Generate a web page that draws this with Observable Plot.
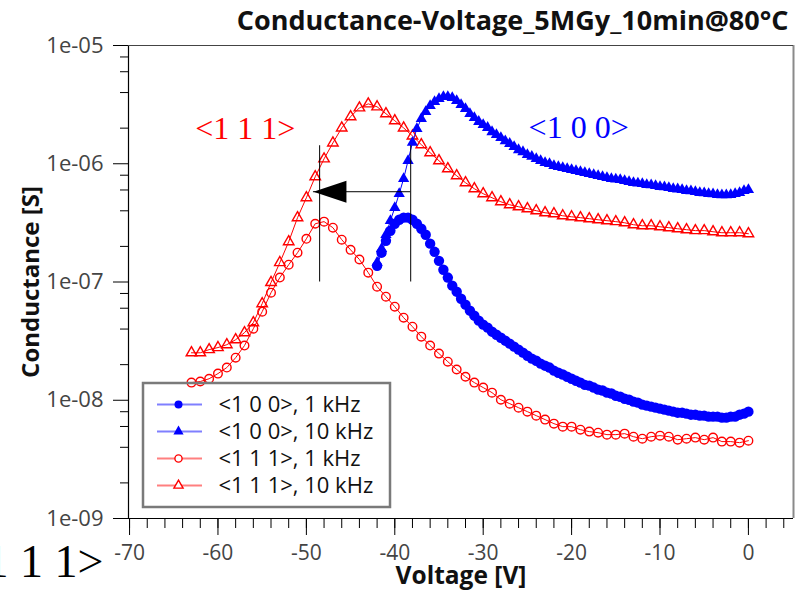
<!DOCTYPE html>
<html><head><meta charset="utf-8">
<script src="https://cdn.jsdelivr.net/npm/d3@7"></script>
<script src="https://cdn.jsdelivr.net/npm/@observablehq/plot@0.6"></script>
<style>
body{margin:0;background:#fff}
#wrap{position:relative;width:800px;height:590px}
#legend{position:absolute;left:141px;top:381px}
#chart g[aria-label$="tick label"]{fill:#444}
</style>
</head><body><div id="wrap"><div id="chart"></div><div id="legend"></div></div>
<script>
// ---------- data ----------
const seriesNames = ["<1 0 0>, 1 kHz", "<1 0 0>, 10 kHz", "<1 1 1>, 1 kHz", "<1 1 1>, 10 kHz"];
const titleText = "Conductance-Voltage_5MGy_10min@80°C";
const xLabel = "Voltage [V]";
const yLabel = "Conductance [S]";

const volt100 = [-42,-41.5,-41,-40.5,-40,-39.5,-39,-38.5,-38,-37.5,
  -37,-36.5,-36,-35.5,-35,-34.5,-34,-33.5,-33,-32.5,
  -32,-31.5,-31,-30.5,-30,-29.5,-29,-28.5,-28,-27.5,
  -27,-26.5,-26,-25.5,-25,-24.5,-24,-23.5,-23,-22.5,
  -22,-21.5,-21,-20.5,-20,-19.5,-19,-18.5,-18,-17.5,
  -17,-16.5,-16,-15.5,-15,-14.5,-14,-13.5,-13,-12.5,
  -12,-11.5,-11,-10.5,-10,-9.5,-9,-8.5,-8,-7.5,
  -7,-6.5,-6,-5.5,-5,-4.5,-4,-3.5,-3,-2.5,
  -2,-1.5,-1,-0.5,0];
const g100_1k = [1.37e-7,1.77e-7,2.23e-7,2.71e-7,3.11e-7,3.36e-7,3.50e-7,3.50e-7,3.36e-7,3.11e-7,
  2.82e-7,2.51e-7,2.11e-7,1.80e-7,1.51e-7,1.27e-7,1.09e-7,9.31e-8,8.28e-8,7.22e-8,
  6.43e-8,5.72e-8,5.19e-8,4.71e-8,4.36e-8,4.11e-8,3.80e-8,3.58e-8,3.38e-8,3.19e-8,
  3.01e-8,2.84e-8,2.68e-8,2.53e-8,2.38e-8,2.25e-8,2.16e-8,2.04e-8,1.96e-8,1.89e-8,
  1.78e-8,1.71e-8,1.65e-8,1.58e-8,1.52e-8,1.46e-8,1.41e-8,1.35e-8,1.33e-8,1.28e-8,
  1.23e-8,1.21e-8,1.16e-8,1.14e-8,1.09e-8,1.07e-8,1.03e-8,1.01e-8,9.73e-9,9.54e-9,
  9.18e-9,9.00e-9,8.83e-9,8.66e-9,8.49e-9,8.33e-9,8.17e-9,8.01e-9,7.85e-9,7.85e-9,
  7.70e-9,7.55e-9,7.55e-9,7.41e-9,7.41e-9,7.27e-9,7.27e-9,7.27e-9,7.13e-9,7.13e-9,
  7.27e-9,7.27e-9,7.55e-9,7.70e-9,8.01e-9];
const g100_10k = [1.46e-7,1.91e-7,2.51e-7,3.30e-7,4.25e-7,5.58e-7,7.47e-7,1.06e-6,1.51e-6,1.98e-6,
  2.40e-6,2.75e-6,3.09e-6,3.34e-6,3.54e-6,3.68e-6,3.68e-6,3.61e-6,3.41e-6,3.15e-6,
  2.92e-6,2.65e-6,2.45e-6,2.27e-6,2.14e-6,2.02e-6,1.86e-6,1.76e-6,1.66e-6,1.56e-6,
  1.48e-6,1.39e-6,1.31e-6,1.26e-6,1.19e-6,1.15e-6,1.10e-6,1.06e-6,1.02e-6,1.00e-6,
  9.62e-7,9.43e-7,9.25e-7,9.07e-7,8.90e-7,8.73e-7,8.56e-7,8.39e-7,8.23e-7,8.07e-7,
  7.92e-7,7.76e-7,7.61e-7,7.47e-7,7.40e-7,7.32e-7,7.18e-7,7.04e-7,6.91e-7,6.85e-7,
  6.78e-7,6.65e-7,6.60e-7,6.52e-7,6.39e-7,6.35e-7,6.27e-7,6.15e-7,6.10e-7,6.03e-7,
  5.91e-7,5.88e-7,5.80e-7,5.69e-7,5.66e-7,5.58e-7,5.55e-7,5.47e-7,5.45e-7,5.45e-7,
  5.47e-7,5.58e-7,5.69e-7,5.91e-7,6.03e-7];

const volt111 = [-63,-62,-61,-60,-59,-58,-57,-56,-55,-54,
  -53,-52,-51,-50,-49,-48,-47,-46,-45,-44,
  -43,-42,-41,-40,-39,-38,-37,-36,-35,-34,
  -33,-32,-31,-30,-29,-28,-27,-26,-25,-24,
  -23,-22,-21,-20,-19,-18,-17,-16,-15,-14,
  -13,-12,-11,-10,-9,-8,-7,-6,-5,-4,
  -3,-2,-1,0];
const g111_1k = [1.41e-8,1.44e-8,1.52e-8,1.68e-8,1.89e-8,2.29e-8,2.90e-8,4.03e-8,5.61e-8,8.12e-8,
  1.09e-7,1.40e-7,1.77e-7,2.32e-7,3.11e-7,3.24e-7,2.88e-7,2.28e-7,1.87e-7,1.55e-7,
  1.20e-7,9.13e-8,7.51e-8,6.18e-8,4.99e-8,4.19e-8,3.45e-8,2.90e-8,2.48e-8,2.12e-8,
  1.82e-8,1.58e-8,1.41e-8,1.28e-8,1.16e-8,1.01e-8,9.36e-9,8.65e-9,8.01e-9,7.41e-9,
  6.86e-9,6.34e-9,5.98e-9,5.98e-9,5.64e-9,5.43e-9,5.32e-9,5.12e-9,5.12e-9,5.22e-9,
  4.92e-9,4.73e-9,4.92e-9,5.02e-9,4.92e-9,4.64e-9,4.73e-9,4.83e-9,4.64e-9,4.83e-9,
  4.47e-9,4.47e-9,4.38e-9,4.55e-9];
const g111_10k = [2.52e-8,2.52e-8,2.68e-8,2.79e-8,2.95e-8,3.25e-8,3.73e-8,4.53e-8,6.56e-8,9.90e-8,
  1.46e-7,2.19e-7,3.50e-7,5.16e-7,7.76e-7,1.10e-6,1.50e-6,2.01e-6,2.50e-6,2.97e-6,
  3.21e-6,3.03e-6,2.65e-6,2.31e-6,2.01e-6,1.72e-6,1.45e-6,1.24e-6,1.06e-6,9.07e-7,
  7.92e-7,6.91e-7,6.15e-7,5.58e-7,5.16e-7,4.77e-7,4.50e-7,4.33e-7,4.17e-7,4.01e-7,
  3.85e-7,3.78e-7,3.63e-7,3.56e-7,3.50e-7,3.43e-7,3.36e-7,3.30e-7,3.24e-7,3.17e-7,
  3.05e-7,2.99e-7,2.99e-7,2.93e-7,2.88e-7,2.82e-7,2.77e-7,2.72e-7,2.72e-7,2.66e-7,
  2.61e-7,2.61e-7,2.61e-7,2.56e-7];

const xTicksMajor = [-70,-60,-50,-40,-30,-20,-10,0];
const xTicksMinor = [-70,-68,-66,-64,-62,-60,-58,-56,-54,-52,-50,-48,-46,-44,-42,-40,-38,-36,-34,-32,-30,-28,-26,-24,-22,-20,-18,-16,-14,-12,-10,-8,-6,-4,-2,0,2,4];
const yTicksMajor = [1e-9,1e-8,1e-7,1e-6,1e-5];
const yTickLabels = ["1e-09","1e-08","1e-07","1e-06","1e-05"];
const yTicksMinor = [2e-9,4e-9,6e-9,8e-9,2e-8,4e-8,6e-8,8e-8,2e-7,4e-7,6e-7,8e-7,2e-6,4e-6,6e-6,8e-6];

// annotations
const annotText = ["<1 1 1>", "<1 0 0>"];
const annotVolt = [-56.9, -19.2];
const annotG = [1.99e-6, 2.02e-6];
const shiftVolt = [-48.5, -38.2];   // vertical marker lines
const shiftGLow = 1e-7, shiftGHigh = 1.42e-6;
const arrowG = 5.8e-7;              // horizontal arrow level
const arrowFrom = -38.2, arrowTo = -49.2;
const strayLabel = "<1 1 1>";

// ---------- build ----------
const tables = [
  volt100.map((v, i) => ({v, g: g100_1k[i]})),
  volt100.map((v, i) => ({v, g: g100_10k[i]})),
  volt111.map((v, i) => ({v, g: g111_1k[i]})),
  volt111.map((v, i) => ({v, g: g111_10k[i]}))
];
const looks = [
  {color: "#0000ff", symbol: "circle", filled: true, r: 5.2, lr: 4},
  {color: "#0000ff", symbol: "triangle", filled: true, r: 4.2, lr: 3.8},
  {color: "#ff0000", symbol: "circle", filled: false, r: 4.3, lr: 3.6},
  {color: "#ff0000", symbol: "triangle", filled: false, r: 3.9, lr: 3.4}
];
const seriesMarks = [];
for (const i of [3, 2, 1, 0]) {
  const L = looks[i];
  seriesMarks.push(Plot.line(tables[i], {x: "v", y: "g", stroke: L.color, strokeWidth: 1}));
  seriesMarks.push(Plot.dot(tables[i], {
    x: "v", y: "g", symbol: L.symbol, r: L.r,
    fill: L.filled ? L.color : "none",
    stroke: L.filled ? "none" : L.color,
    strokeWidth: L.filled ? 0 : 1.4
  }));
}
const arrowHead = {draw(ctx) { ctx.moveTo(0, 0); ctx.lineTo(33, -11); ctx.lineTo(33, 11); ctx.closePath(); }};
const annots = annotText.map((t, i) => ({t, v: annotVolt[i], g: annotG[i]}));

const chart = Plot.plot({
  width: 800, height: 590,
  marginLeft: 128, marginRight: 7, marginTop: 45, marginBottom: 72,
  x: {domain: [-70.12, 5.1]},
  y: {type: "log", domain: [1e-9, 1e-5]},
  style: {fontFamily: "'Open Sans', sans-serif", fontSize: "21px", background: "white", overflow: "visible"},
  marks: [
    Plot.ruleX([-70.12], {stroke: "black", strokeWidth: 1.2}),
    Plot.ruleX([5.1], {stroke: "#8a8a8a", strokeWidth: 2}),
    Plot.ruleY([1e-5], {stroke: "#444", strokeWidth: 1.2}),
    Plot.ruleY([1e-9], {stroke: "black", strokeWidth: 1.2}),
    Plot.axisX({ticks: xTicksMinor, tickSize: 10, tickFormat: () => "", label: null, stroke: "black"}),
    Plot.axisX({ticks: xTicksMajor, tickSize: 17, tickPadding: 10, tickFormat: d => `${d}`, label: null, stroke: "black", fontSize: 21}),
    Plot.axisY({ticks: yTicksMinor, tickSize: 8, tickFormat: () => "", label: null, stroke: "black"}),
    Plot.axisY({ticks: yTicksMajor, tickSize: 15, tickPadding: 10, tickFormat: d => yTickLabels[yTicksMajor.indexOf(d)], label: null, stroke: "black", fontSize: 22}),
    Plot.text([titleText], {frameAnchor: "top-right", dx: -5, dy: -24, text: d => d, textAnchor: "end", lineAnchor: "middle", fontWeight: "bold", fontSize: 27, fill: "#111"}),
    Plot.text([xLabel], {frameAnchor: "bottom", dy: 58, text: d => d, textAnchor: "middle", lineAnchor: "middle", fontWeight: "bold", fontSize: 24.5, fill: "#111"}),
    Plot.text([yLabel], {frameAnchor: "left", dx: -97, text: d => d, rotate: -90, textAnchor: "middle", lineAnchor: "middle", fontWeight: "bold", fontSize: 24, fill: "#111"}),
    Plot.text([strayLabel], {frameAnchor: "bottom-left", dx: -25, dy: 44, text: d => d, textAnchor: "end", lineAnchor: "middle", fontFamily: "'Liberation Serif', serif", fontSize: 46, fill: "black"}),
    ...seriesMarks,
    Plot.ruleX(shiftVolt, {y1: shiftGLow, y2: shiftGHigh, stroke: "black", strokeWidth: 1}),
    Plot.ruleY([arrowG], {x1: arrowFrom, x2: arrowTo, stroke: "black", strokeWidth: 1}),
    Plot.dot([arrowG], {x: () => arrowTo, y: d => d, symbol: arrowHead, fill: "black", stroke: "none"}),
    Plot.text(annots, {x: "v", y: "g", text: "t", fill: (d, i) => looks[i === 0 ? 2 : 0].color, fontFamily: "'Liberation Serif', serif", fontSize: 32})
  ]
});
document.getElementById("chart").appendChild(chart);

// legend (inside plot area, overlaid)
const legendRows = seriesNames.map((name, i) => ({name, i}));
const legendMarks = [
  Plot.frame({stroke: "#7a7a7a", strokeWidth: 2.5, inset: 1.5}),
  Plot.ruleY(legendRows, {y: "name", x1: 16, x2: 61, stroke: d => looks[d.i].color, strokeOpacity: 0.5, strokeWidth: 2})
];
for (const row of legendRows) {
  const L = looks[row.i];
  legendMarks.push(Plot.dot([row], {x: () => 37, y: "name", symbol: L.symbol, r: L.lr,
    fill: L.filled ? L.color : "white", stroke: L.filled ? "none" : L.color, strokeWidth: 1.4}));
}
legendMarks.push(Plot.text(legendRows, {x: () => 77, y: "name", text: "name", textAnchor: "start", lineAnchor: "middle", fill: "#111", fontSize: 22}));
const legend = Plot.plot({
  width: 250, height: 127, margin: 0,
  x: {domain: [0, 250], range: [0, 250], axis: null},
  y: {type: "point", domain: seriesNames, range: [23, 104], padding: 0, axis: null},
  style: {fontFamily: "'Open Sans', sans-serif", fontSize: "22px", background: "transparent", overflow: "visible"},
  marks: legendMarks
});
document.getElementById("legend").appendChild(legend);
</script>
</body></html>
